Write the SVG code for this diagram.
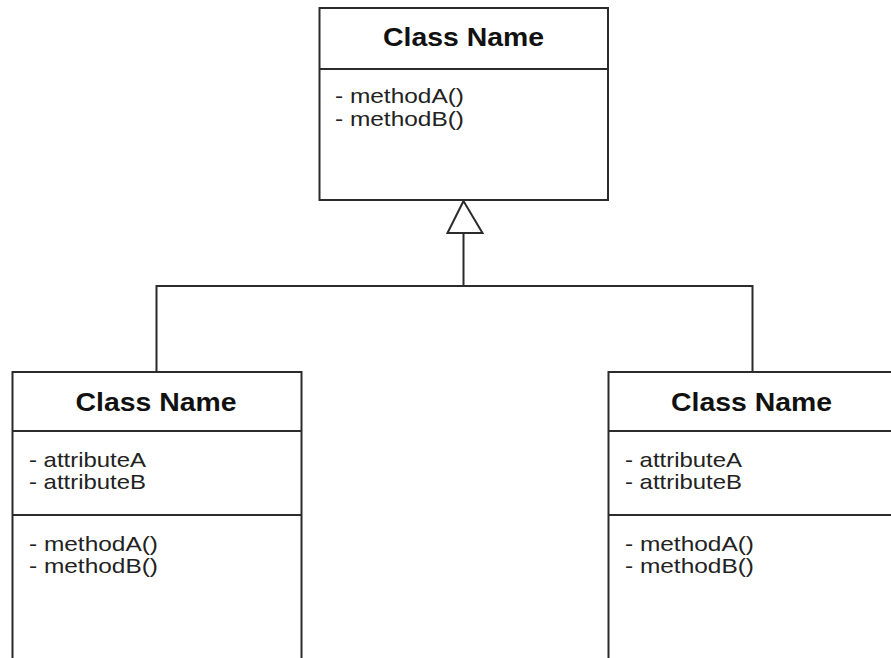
<svg xmlns="http://www.w3.org/2000/svg" width="891" height="658" viewBox="0 0 891 658">
<style>
.box{fill:#fff;stroke:#2b2b2b;stroke-width:2}
.div{stroke:#2b2b2b;stroke-width:2}
.title{font-family:"Liberation Sans",Arial,sans-serif;font-weight:bold;font-size:25px;fill:#111;text-anchor:middle}
.body{font-family:"Liberation Sans",Arial,sans-serif;font-size:21px;fill:#222}
.conn{fill:none;stroke:#2b2b2b;stroke-width:2}
</style>
<rect width="891" height="658" fill="#fff"/>
<g id="connectors">
<polyline class="conn" points="156.5,372 156.5,286 752.5,286 752.5,372"/>
<line class="conn" x1="463.5" y1="233" x2="463.5" y2="286"/>
<polygon class="conn" points="463.5,201 447.5,233 482.5,233" fill="#fff"/>
</g>
<g id="parent">
<rect class="box" x="319.5" y="8" width="288.5" height="192"/>
<line class="div" x1="319.5" y1="69" x2="608" y2="69"/>
<text class="title" x="463.5" y="46" textLength="161" lengthAdjust="spacingAndGlyphs">Class Name</text>
<text class="body" x="335" y="103" textLength="129" lengthAdjust="spacingAndGlyphs">- methodA()</text>
<text class="body" x="335" y="126" textLength="129" lengthAdjust="spacingAndGlyphs">- methodB()</text>
</g>
<g id="childLeft">
<rect class="box" x="12.5" y="372" width="289" height="300"/>
<line class="div" x1="12.5" y1="431" x2="301.5" y2="431"/>
<line class="div" x1="12.5" y1="515" x2="301.5" y2="515"/>
<text class="title" x="156" y="411" textLength="161" lengthAdjust="spacingAndGlyphs">Class Name</text>
<text class="body" x="29" y="467" textLength="117" lengthAdjust="spacingAndGlyphs">- attributeA</text>
<text class="body" x="29" y="489" textLength="117" lengthAdjust="spacingAndGlyphs">- attributeB</text>
<text class="body" x="29" y="551" textLength="129" lengthAdjust="spacingAndGlyphs">- methodA()</text>
<text class="body" x="29" y="573" textLength="129" lengthAdjust="spacingAndGlyphs">- methodB()</text>
</g>
<g id="childRight">
<rect class="box" x="608.5" y="372" width="300" height="300"/>
<line class="div" x1="608.5" y1="431" x2="891" y2="431"/>
<line class="div" x1="608.5" y1="515" x2="891" y2="515"/>
<text class="title" x="751.5" y="411" textLength="161" lengthAdjust="spacingAndGlyphs">Class Name</text>
<text class="body" x="625" y="467" textLength="117" lengthAdjust="spacingAndGlyphs">- attributeA</text>
<text class="body" x="625" y="489" textLength="117" lengthAdjust="spacingAndGlyphs">- attributeB</text>
<text class="body" x="625" y="551" textLength="129" lengthAdjust="spacingAndGlyphs">- methodA()</text>
<text class="body" x="625" y="573" textLength="129" lengthAdjust="spacingAndGlyphs">- methodB()</text>
</g>
</svg>
